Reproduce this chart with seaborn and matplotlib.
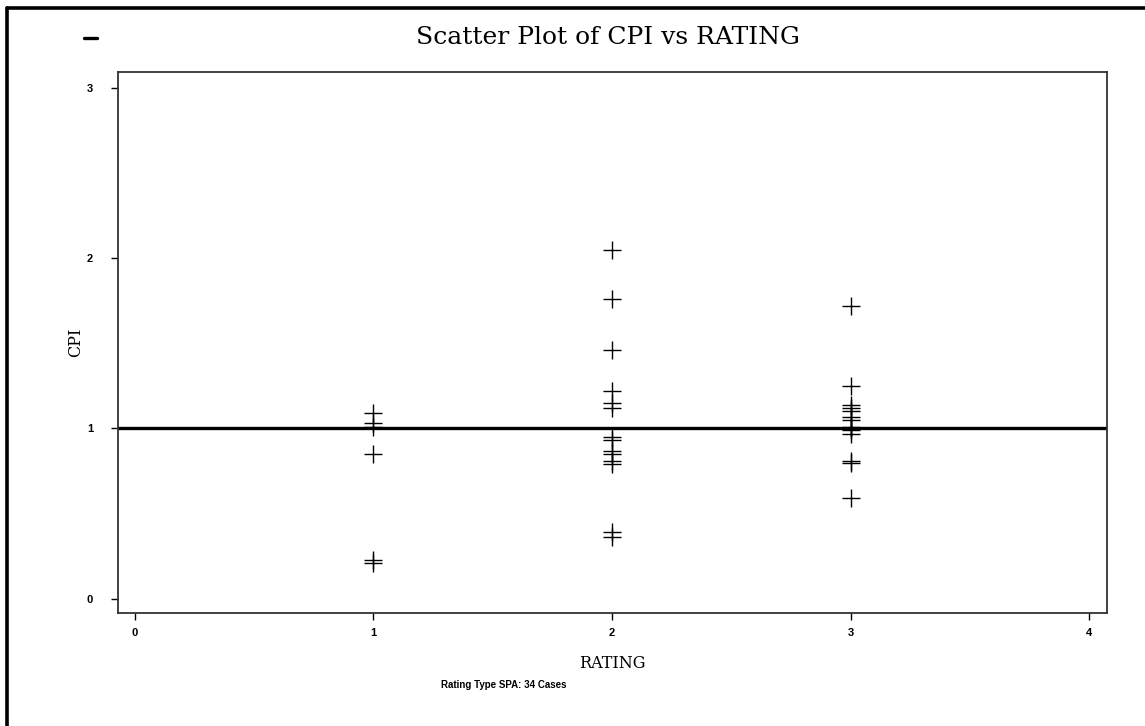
import matplotlib
matplotlib.use("Agg")
import matplotlib.pyplot as plt
from matplotlib.lines import Line2D
import seaborn as sns
import pandas as pd

# CPI observations grouped by rating
rating_1_cpi = [1.09, 1.03, 1.01, 0.85, 0.23, 0.21]
rating_2_cpi = [2.05, 1.76, 1.46, 1.22, 1.15, 1.12, 0.95, 0.93, 0.87, 0.85,
                0.81, 0.79, 0.39, 0.36]
rating_3_cpi = [1.72, 1.25, 1.14, 1.12, 1.10, 1.07, 1.05, 1.01, 1.00, 0.99,
                0.97, 0.81, 0.80, 0.59]
ratings = [1, 2, 3]
x_ticks = [0, 1, 2, 3, 4]
y_ticks = [0, 1, 2, 3]
reference_cpi = 1.0

title = "Scatter Plot of CPI vs RATING"
x_label = "RATING"
y_label = "CPI"
footnote = "Rating Type SPA: 34 Cases"

rows = []
for r, vals in zip(ratings, [rating_1_cpi, rating_2_cpi, rating_3_cpi]):
    rows += [{"RATING": r, "CPI": v} for v in vals]
df = pd.DataFrame(rows)

sns.set_style("white")
plt.rcParams["font.family"] = ["DejaVu Sans"]
plt.rcParams["text.color"] = "black"
plt.rcParams["axes.labelcolor"] = "black"
plt.rcParams["xtick.color"] = "black"
plt.rcParams["ytick.color"] = "black"

fig = plt.figure(figsize=(11.45, 7.26), dpi=100)
ax = fig.add_axes([0.103, 0.156, 0.864, 0.745])

sns.scatterplot(data=df, x="RATING", y="CPI", marker="+", s=150,
                color="black", linewidth=1.0, ax=ax, legend=False)
ax.axhline(reference_cpi, color="black", linewidth=2.4, zorder=1)

ax.set_xlim(-0.071, 4.075)
ax.set_ylim(-0.082, 3.094)
ax.set_xticks(x_ticks)
ax.set_yticks(y_ticks)
ax.set_xticklabels([str(t) for t in x_ticks], fontsize=8,
                   fontweight="bold", family="Liberation Sans")
ax.set_yticklabels([str(t) for t in y_ticks], fontsize=8,
                   fontweight="bold", family="Liberation Sans")
ax.tick_params(axis="x", direction="out", length=5, width=1,
               color="black", labelcolor="black", pad=6, bottom=True)
ax.tick_params(axis="y", direction="out", length=5, width=1,
               color="black", labelcolor="black", pad=13, left=True)
for sp in ax.spines.values():
    sp.set_color("#333333")
    sp.set_linewidth(1.3)

ax.set_xlabel(x_label, family="DejaVu Serif", fontsize=11.5, labelpad=12,
              color="black")
ax.set_ylabel(y_label, family="DejaVu Serif", fontsize=11.5, labelpad=2,
              color="black")
fig.text(0.531, 0.948, title, family="DejaVu Serif", fontsize=18,
         ha="center", va="center", color="black")
fig.text(0.44, 0.056, footnote, family="Liberation Sans", fontsize=7,
         fontweight="bold", ha="center", va="center", color="black")

# page frame along the top and left edges
W, H = 1145, 726
fig.add_artist(Line2D([7 / W, 7 / W], [0, 1 - 8 / H], transform=fig.transFigure,
                      color="black", linewidth=2.6))
fig.add_artist(Line2D([7 / W, 1], [1 - 8 / H, 1 - 8 / H], transform=fig.transFigure,
                      color="black", linewidth=2.6))
fig.add_artist(Line2D([84 / W, 97 / W], [1 - 38 / H, 1 - 38 / H],
                      transform=fig.transFigure, color="black", linewidth=2.4))

fig.savefig("out.png", dpi=100)
